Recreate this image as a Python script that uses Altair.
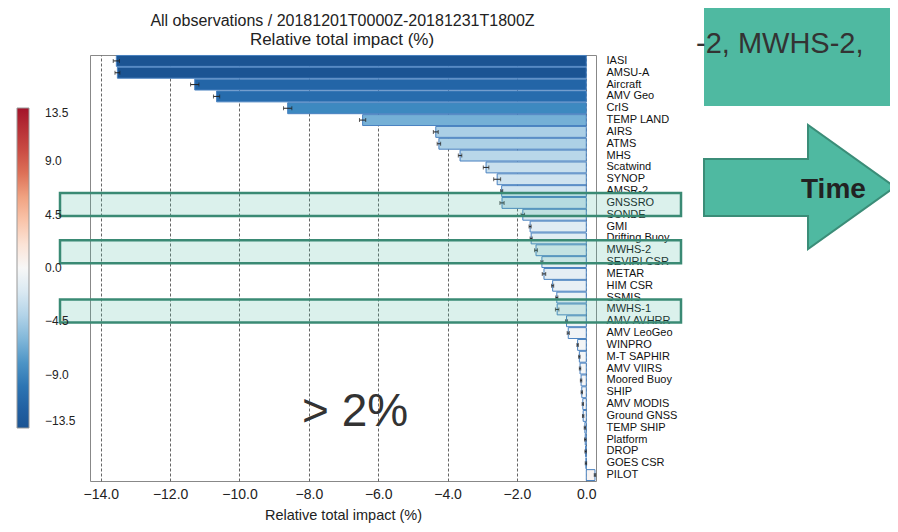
import altair as alt
import pandas as pd

categories = ["IASI", "AMSU-A", "Aircraft", "AMV Geo", "CrIS", "TEMP LAND", "AIRS", "ATMS",
              "MHS", "Scatwind", "SYNOP", "AMSR-2", "GNSSRO", "SONDE", "GMI", "Drifting Buoy",
              "MWHS-2", "SEVIRI CSR", "METAR", "HIM CSR", "SSMIS", "MWHS-1", "AMV AVHRR",
              "AMV LeoGeo", "WINPRO", "M-T SAPHIR", "AMV VIIRS", "Moored Buoy", "SHIP",
              "AMV MODIS", "Ground GNSS", "TEMP SHIP", "Platform", "DROP", "GOES CSR", "PILOT"]
impact = [-13.55, -13.52, -11.29, -10.66, -8.61, -6.45, -4.34, -4.25,
          -3.64, -2.89, -2.57, -2.44, -2.43, -1.83, -1.62, -1.59,
          -1.45, -1.28, -1.22, -0.97, -0.85, -0.84, -0.57,
          -0.52, -0.25, -0.20, -0.18, -0.15, -0.13,
          -0.10, -0.09, -0.04, -0.03, -0.02, -0.01, 0.25]
error = [0.09, 0.07, 0.12, 0.09, 0.12, 0.09, 0.07, 0.05,
         0.05, 0.08, 0.10, 0.03, 0.06, 0.05, 0.03, 0.03,
         0.04, 0.03, 0.05, 0.03, 0.03, 0.05, 0.03,
         0.03, 0.02, 0.02, 0.02, 0.02, 0.02,
         0.02, 0.02, 0.02, 0.02, 0.02, 0.02, 0.02]
highlighted = ["GNSSRO", "MWHS-2", "MWHS-1"]
x_ticks = [-14, -12, -10, -8, -6, -4, -2, 0]
legend_ticks = [-13.5, -9.0, -4.5, 0.0, 4.5, 9.0, 13.5]
color_domain = [-13.5, -11.0, -8.6, -6.45, -4.3, -2.0, 0.0, 2.0, 4.3, 6.45, 8.6, 11.0, 13.5]
color_range = ["#1b5493", "#2467aa", "#3d89c0", "#75b0d6", "#acd0e6", "#dae9f2", "#f7f7f7",
               "#fbe3d6", "#f8bfa4", "#ee9a78", "#d6604d", "#c03a3c", "#a3132a"]

title_text = "All observations / 20181201T0000Z-20181231T1800Z"
subtitle_text = "Relative total impact (%)"
axis_title = "Relative total impact (%)"

df = pd.DataFrame({"category": categories, "impact": impact, "err": error})
df["lo"] = df["impact"] - df["err"]
df["hi"] = df["impact"] + df["err"]

FONT = "Liberation Sans"

x_scale = alt.Scale(domain=[-14.31, 0.28], nice=False, zero=False)
y_enc = alt.Y("category:N", sort=categories,
              scale=alt.Scale(paddingInner=0.08, paddingOuter=0.04),
              axis=alt.Axis(orient="right", title=None, ticks=False, domain=False,
                            labelAlign="left", labelPadding=10, labelFontSize=11,
                            labelColor="#111", labelLimit=200, zindex=0, grid=False))

bars = alt.Chart(df).mark_bar(stroke="#4a82c0", strokeWidth=1).encode(
    x=alt.X("impact:Q", scale=x_scale,
            axis=alt.Axis(values=x_ticks, format=".1f", title=axis_title,
                          grid=True, gridDash=[3, 2], gridColor="#666", gridWidth=1,
                          ticks=False, domain=False, labelFontSize=14, labelPadding=6,
                          labelColor="#222", titleFontSize=14.5, titleFontWeight="normal",
                          titleColor="#222", titlePadding=7, zindex=0)),
    y=y_enc,
    color=alt.Color("impact:Q",
                    scale=alt.Scale(domain=color_domain, range=color_range),
                    legend=alt.Legend(orient="none", legendX=-73, legendY=53,
                                      direction="vertical", title=None,
                                      gradientLength=320, gradientThickness=12,
                                      gradientStrokeColor="#999", gradientStrokeWidth=1,
                                      values=legend_ticks, format=".1f",
                                      labelOffset=16,
                                      labelFontSize=12, labelColor="#222", padding=0)),
)

err_rule = alt.Chart(df).mark_rule(color="#222", strokeWidth=1).encode(
    x=alt.X("lo:Q", scale=x_scale), x2="hi:Q", y=y_enc)
err_lo = alt.Chart(df).mark_tick(color="#222", thickness=1, size=4).encode(
    x=alt.X("lo:Q", scale=x_scale), y=y_enc)
err_hi = alt.Chart(df).mark_tick(color="#222", thickness=1, size=4).encode(
    x=alt.X("hi:Q", scale=x_scale), y=y_enc)

hl_df = pd.DataFrame({"category": highlighted})
boxes = alt.Chart(hl_df).mark_bar(height=23, yOffset=1.5, fill="#4db9a0", fillOpacity=0.2,
                                  stroke="#3a8a74", strokeWidth=2.5).encode(
    y=y_enc, x=alt.value(-30), x2=alt.value(591))

one = pd.DataFrame({"k": [0]})
title_mark = alt.Chart(one).mark_text(text=title_text, font=FONT, fontSize=16,
                                      align="center", baseline="alphabetic", color="#222").encode(
    x=alt.value(252.5), y=alt.value(-29))
subtitle_mark = alt.Chart(one).mark_text(text=subtitle_text, font=FONT, fontSize=17,
                                         align="center", baseline="alphabetic", color="#222").encode(
    x=alt.value(252), y=alt.value(-10))
teal = alt.Chart(one).mark_rect(fill="#4fb9a1").encode(
    x=alt.value(614), x2=alt.value(803), y=alt.value(-47), y2=alt.value(51))
slide_text = alt.Chart(one).mark_text(text="-2, MWHS-2,", font=FONT, fontSize=29,
                                      align="left", baseline="alphabetic", color="#333").encode(
    x=alt.value(606), y=alt.value(-2))
arrow = alt.Chart(one).mark_point(
    shape="M -1 -0.293 L 0.089 -0.293 L 0.089 -0.649 L 1 0 L 0.089 0.649 L 0.089 0.304 L -1 0.304 Z",
    size=36481, filled=True, fill="#4fb9a1", stroke="#3b8d78", strokeWidth=2, opacity=1).encode(
    x=alt.value(709.5), y=alt.value(132))
time_text = alt.Chart(one).mark_text(text="Time", font=FONT, fontSize=28, fontWeight="bold",
                                     align="left", baseline="alphabetic", color="#222").encode(
    x=alt.value(711), y=alt.value(143))
pct_text = alt.Chart(one).mark_text(text="> 2%", font=FONT, fontSize=46,
                                    align="left", baseline="alphabetic", color="#333").encode(
    x=alt.value(212), y=alt.value(371))

chart = alt.layer(teal, slide_text, arrow, time_text, title_mark, subtitle_mark,
                  bars, err_rule, err_lo, err_hi, boxes, pct_text).properties(
    width=506, height=426,
    padding={"left": 82, "top": 47, "right": 294, "bottom": 43},
    autosize=alt.AutoSizeParams(type="none"),
).configure(font=FONT).configure_view(stroke="#888", strokeWidth=1)

chart.save("out.html", embed_options={"renderer": "svg", "actions": False})
